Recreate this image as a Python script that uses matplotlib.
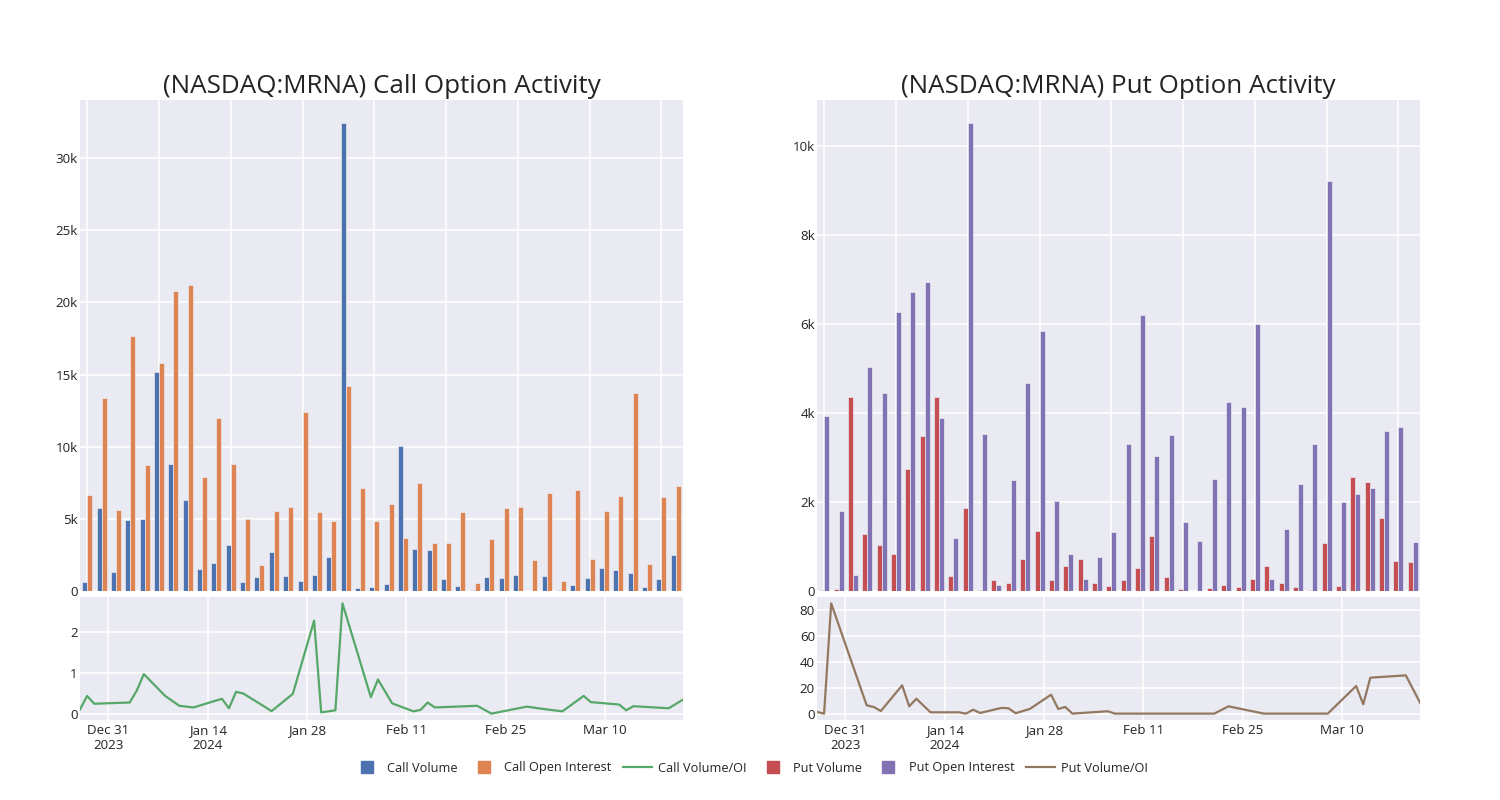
import matplotlib
matplotlib.use("Agg")
import matplotlib.pyplot as plt
from matplotlib.lines import Line2D
import numpy as np
import pandas as pd

# ---------------- data ----------------
dates = ["2023-12-27", "2023-12-28", "2023-12-29", "2024-01-03", "2024-01-04", "2024-01-05",
         "2024-01-08", "2024-01-09", "2024-01-10", "2024-01-12", "2024-01-16", "2024-01-17",
         "2024-01-18", "2024-01-19", "2024-01-22", "2024-01-23", "2024-01-24", "2024-01-26",
         "2024-01-29", "2024-01-30", "2024-01-31", "2024-02-01", "2024-02-02", "2024-02-06",
         "2024-02-07", "2024-02-09", "2024-02-12", "2024-02-13", "2024-02-14", "2024-02-15",
         "2024-02-21", "2024-02-23", "2024-02-28", "2024-03-01", "2024-03-04", "2024-03-07",
         "2024-03-08", "2024-03-12", "2024-03-13", "2024-03-14", "2024-03-19", "2024-03-21"]

call_volume = [650, 5730, 1350, 4900, 4990, 15150, 8790, 6290, 1500, 1970, 3180, 600,
               950, 2690, 1070, 720, 1090, 2370, 32400, 230, 300, 460, 10050, 2900,
               2830, 810, 320, 50, 950, 900, 1090, 10, 1020, 90, 440, 930,
               1600, 1460, 1250, 300, 860, 2500]
call_oi = [6680, 13390, 5590, 17700, 8700, 15800, 20790, 21230, 7900, 12000, 8820, 4970,
           1790, 5570, 5800, 12410, 5450, 4850, 14200, 7170, 4870, 6000, 3670, 7450,
           3340, 3340, 5450, 580, 3570, 5730, 5850, 2130, 6800, 720, 7000, 2230,
           5520, 6590, 13710, 1880, 6520, 7300]
call_ratio = [0.11, 0.44, 0.25, 0.28, 0.57, 0.97, 0.44, 0.32, 0.20, 0.16, 0.37, 0.14,
              0.54, 0.50, 0.18, 0.07, 0.21, 0.49, 2.27, 0.04, 0.065, 0.09, 2.69, 0.41,
              0.84, 0.26, 0.065, 0.10, 0.28, 0.16, 0.20, 0.01, 0.18, 0.13, 0.065, 0.44,
              0.29, 0.23, 0.09, 0.19, 0.14, 0.35]

put_volume = [20, 50, 4360, 1290, 1040, 820, 2750, 3480, 4350, 340, 1860, 20,
              240, 170, 710, 1350, 240, 560, 720, 170, 110, 240, 520, 1240,
              310, 50, 0, 70, 130, 100, 260, 560, 170, 80, 20, 1080,
              110, 2570, 2440, 1630, 680, 640]
put_oi = [3920, 1790, 350, 5040, 4440, 6260, 6710, 6930, 3890, 1200, 10500, 3520,
          140, 2500, 4680, 5830, 2020, 830, 280, 760, 1320, 3310, 6190, 3040,
          3500, 1560, 1130, 2510, 4240, 4130, 5990, 280, 1400, 2410, 3290, 9210,
          2000, 2170, 2320, 3590, 3680, 1090]
put_ratio = [1.3, 0.0, 85.0, 6.4, 5.1, 2.0, 21.8, 5.6, 11.5, 1.0, 1.0, 0.0,
             3.0, 0.5, 4.4, 4.1, 0.3, 3.6, 14.6, 3.6, 5.1, 0.0, 0.4, 1.8,
             0.0, 0.0, 0.0, 0.0, 0.0, 0.0, 0.0, 5.6, 0.0, 0.0, 0.0, 0.0,
             0.0, 21.3, 7.2, 27.7, 29.5, 8.5]

tick_dates = ["2023-12-31", "2024-01-14", "2024-01-28", "2024-02-11", "2024-02-25", "2024-03-10"]
tick_labels = ["Dec 31\n2023", "Jan 14\n2024", "Jan 28", "Feb 11", "Feb 25", "Mar 10"]

titles = ["(NASDAQ:MRNA) Call Option Activity", "(NASDAQ:MRNA) Put Option Activity"]
legend_labels = ["Call Volume", "Call Open Interest", "Call Volume/OI",
                 "Put Volume", "Put Open Interest", "Put Volume/OI"]

# ---------------- style ----------------
BG = "#EAEAF2"
TXT = "#242424"
C_BLUE, C_ORANGE, C_GREEN = "#4C72B0", "#DD8452", "#55A868"
C_RED, C_PURPLE, C_BROWN = "#C44E52", "#8172B3", "#937860"

plt.rcParams["font.family"] = ["Open Sans", "DejaVu Sans"]
plt.rcParams["text.color"] = TXT

W, H = 1500, 800
fig = plt.figure(figsize=(15, 8), dpi=100)


def ax_px(x0, x1, y0, y1):
    return fig.add_axes([x0 / W, 1 - y1 / H, (x1 - x0) / W, (y1 - y0) / H])


def style(ax):
    ax.set_facecolor(BG)
    for s in ax.spines.values():
        s.set_visible(False)
    ax.grid(True, color="white", linewidth=1.1)
    ax.set_axisbelow(True)
    ax.tick_params(axis="x", length=0, labelsize=9.6, colors=TXT, pad=3)
    ax.tick_params(axis="y", length=0, labelsize=9.6, colors=TXT, pad=1.5)


dt = pd.to_datetime(dates)
tdt = pd.to_datetime(tick_dates)
idx = np.arange(len(dates))


def kfmt(v, _):
    if v == 0:
        return "0"
    return f"{v/1000:g}k"


def panel(x0, x1, vol, oi, ratio, cv, co, cl, yticks_top, yticks_bot, title):
    top = ax_px(x0, x1, 100, 591)
    bot = ax_px(x0, x1, 597, 720)
    style(top)
    style(bot)
    bw = 0.35
    top.bar(idx - bw / 2, vol, width=bw, color=cv, edgecolor=BG, linewidth=0.5)
    top.bar(idx + bw / 2, oi, width=bw, color=co, edgecolor=BG, linewidth=0.5)
    top.set_xlim(-0.5, len(idx) - 0.5)
    top.set_ylim(0, max(max(vol), max(oi)) * 1.05)
    top.set_xticks(np.arange(0, len(idx), 5))
    top.set_xticklabels([])
    top.set_yticks(yticks_top)
    top.yaxis.set_major_formatter(matplotlib.ticker.FuncFormatter(kfmt))
    top.set_title(title, fontsize=18.7, color=TXT, pad=5)

    bot.plot(dt, ratio, color=cl, linewidth=1.6)
    bot.set_xlim(dt[0], dt[-1])
    lo, hi = min(ratio), max(ratio)
    pad = (hi - lo) * 0.058
    bot.set_ylim(lo - pad, hi + pad)
    bot.set_xticks(tdt)
    bot.set_xticklabels(tick_labels)
    bot.set_yticks(yticks_bot)
    return top, bot


panel(80, 683, call_volume, call_oi, call_ratio, C_BLUE, C_ORANGE, C_GREEN,
      [0, 5000, 10000, 15000, 20000, 25000, 30000], [0, 1, 2], titles[0])
panel(817, 1420, put_volume, put_oi, put_ratio, C_RED, C_PURPLE, C_BROWN,
      [0, 2000, 4000, 6000, 8000, 10000], [0, 20, 40, 60, 80], titles[1])

handles = [
    Line2D([], [], marker="s", linestyle="none", color=C_BLUE, markersize=9),
    Line2D([], [], marker="s", linestyle="none", color=C_ORANGE, markersize=9),
    Line2D([], [], color=C_GREEN, linewidth=1.6),
    Line2D([], [], marker="s", linestyle="none", color=C_RED, markersize=9),
    Line2D([], [], marker="s", linestyle="none", color=C_PURPLE, markersize=9),
    Line2D([], [], color=C_BROWN, linewidth=1.6),
]
fig.legend(handles, legend_labels, loc="center", bbox_to_anchor=(0.5, 1 - 768 / H),
           ncol=6, frameon=False, fontsize=9.2, handlelength=2.3, handletextpad=0.45,
           columnspacing=0.9)

fig.savefig("out.png", dpi=100, facecolor="white")
